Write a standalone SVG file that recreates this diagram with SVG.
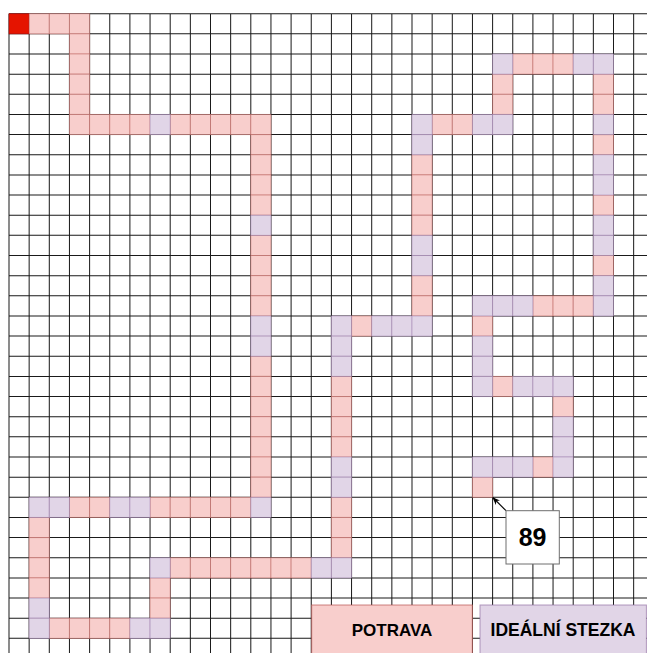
<svg xmlns="http://www.w3.org/2000/svg" width="647" height="653" viewBox="0 0 647 653">
<style>
.grid{fill:none;stroke:#1a1a1a;stroke-width:1}
.p{fill:#f8cecc;stroke:#b85450;stroke-opacity:0.45}
.l{fill:#e1d5e7;stroke:#9673a6;stroke-opacity:0.45}
.r{fill:#e51400;stroke:#b20000;stroke-opacity:0.5}
.lbl{font-family:"Liberation Sans",Arial,sans-serif;font-weight:bold;fill:#000;text-anchor:middle}
</style>
<defs>
<rect id="c" width="20" height="20"/>
<marker id="ah" viewBox="0 0 10 10" refX="9" refY="5" markerWidth="8" markerHeight="8" orient="auto" markerUnits="userSpaceOnUse">
<path d="M0,1 L10,5 L0,9 L3,5 Z" fill="#000"/>
</marker>
</defs>
<rect width="647" height="653" fill="#fff"/>
<g id="board" transform="translate(9 13.7) scale(1.0075)">
<path class="grid" d="M0 0V640M20 0V640M40 0V640M60 0V640M80 0V640M100 0V640M120 0V640M140 0V640M160 0V640M180 0V640M200 0V640M220 0V640M240 0V640M260 0V640M280 0V640M300 0V640M320 0V640M340 0V640M360 0V640M380 0V640M400 0V640M420 0V640M440 0V640M460 0V640M480 0V640M500 0V640M520 0V640M540 0V640M560 0V640M580 0V640M600 0V640M620 0V640M0 0H640M0 20H640M0 40H640M0 60H640M0 80H640M0 100H640M0 120H640M0 140H640M0 160H640M0 180H640M0 200H640M0 220H640M0 240H640M0 260H640M0 280H640M0 300H640M0 320H640M0 340H640M0 360H640M0 380H640M0 400H640M0 420H640M0 440H640M0 460H640M0 480H640M0 500H640M0 520H640M0 540H640M0 560H640M0 580H640M0 600H640M0 620H640"/>
<g id="start"><rect class="r" x="0" y="0" width="20" height="20"/></g>
<g id="cells-potrava">
<rect class="p" x="20" y="0" width="20" height="20"/><rect class="p" x="40" y="0" width="20" height="20"/><rect class="p" x="60" y="0" width="20" height="20"/>
<rect class="p" x="60" y="20" width="20" height="20"/><rect class="p" x="60" y="40" width="20" height="20"/><rect class="p" x="60" y="60" width="20" height="20"/><rect class="p" x="60" y="80" width="20" height="20"/>
<rect class="p" x="60" y="100" width="20" height="20"/><rect class="p" x="80" y="100" width="20" height="20"/><rect class="p" x="100" y="100" width="20" height="20"/><rect class="p" x="120" y="100" width="20" height="20"/>
<rect class="p" x="160" y="100" width="20" height="20"/><rect class="p" x="180" y="100" width="20" height="20"/><rect class="p" x="200" y="100" width="20" height="20"/><rect class="p" x="220" y="100" width="20" height="20"/><rect class="p" x="240" y="100" width="20" height="20"/>
<rect class="p" x="240" y="120" width="20" height="20"/><rect class="p" x="240" y="140" width="20" height="20"/><rect class="p" x="240" y="160" width="20" height="20"/><rect class="p" x="240" y="180" width="20" height="20"/>
<rect class="p" x="240" y="220" width="20" height="20"/><rect class="p" x="240" y="240" width="20" height="20"/><rect class="p" x="240" y="260" width="20" height="20"/><rect class="p" x="240" y="280" width="20" height="20"/>
<rect class="p" x="240" y="340" width="20" height="20"/><rect class="p" x="240" y="360" width="20" height="20"/><rect class="p" x="240" y="380" width="20" height="20"/><rect class="p" x="240" y="400" width="20" height="20"/><rect class="p" x="240" y="420" width="20" height="20"/><rect class="p" x="240" y="440" width="20" height="20"/><rect class="p" x="240" y="460" width="20" height="20"/>
<rect class="p" x="60" y="480" width="20" height="20"/><rect class="p" x="80" y="480" width="20" height="20"/>
<rect class="p" x="140" y="480" width="20" height="20"/><rect class="p" x="160" y="480" width="20" height="20"/><rect class="p" x="180" y="480" width="20" height="20"/><rect class="p" x="200" y="480" width="20" height="20"/><rect class="p" x="220" y="480" width="20" height="20"/>
<rect class="p" x="20" y="500" width="20" height="20"/><rect class="p" x="20" y="520" width="20" height="20"/><rect class="p" x="20" y="540" width="20" height="20"/><rect class="p" x="20" y="560" width="20" height="20"/>
<rect class="p" x="40" y="600" width="20" height="20"/><rect class="p" x="60" y="600" width="20" height="20"/><rect class="p" x="80" y="600" width="20" height="20"/><rect class="p" x="100" y="600" width="20" height="20"/>
<rect class="p" x="140" y="560" width="20" height="20"/><rect class="p" x="140" y="580" width="20" height="20"/>
<rect class="p" x="160" y="540" width="20" height="20"/><rect class="p" x="180" y="540" width="20" height="20"/><rect class="p" x="200" y="540" width="20" height="20"/><rect class="p" x="220" y="540" width="20" height="20"/><rect class="p" x="240" y="540" width="20" height="20"/><rect class="p" x="260" y="540" width="20" height="20"/><rect class="p" x="280" y="540" width="20" height="20"/>
<rect class="p" x="320" y="480" width="20" height="20"/><rect class="p" x="320" y="500" width="20" height="20"/><rect class="p" x="320" y="520" width="20" height="20"/>
<rect class="p" x="320" y="360" width="20" height="20"/><rect class="p" x="320" y="380" width="20" height="20"/><rect class="p" x="320" y="400" width="20" height="20"/><rect class="p" x="320" y="420" width="20" height="20"/>
<rect class="p" x="340" y="300" width="20" height="20"/>
<rect class="p" x="400" y="260" width="20" height="20"/><rect class="p" x="400" y="280" width="20" height="20"/>
<rect class="p" x="400" y="140" width="20" height="20"/><rect class="p" x="400" y="160" width="20" height="20"/><rect class="p" x="400" y="180" width="20" height="20"/><rect class="p" x="400" y="200" width="20" height="20"/>
<rect class="p" x="420" y="100" width="20" height="20"/><rect class="p" x="440" y="100" width="20" height="20"/>
<rect class="p" x="480" y="60" width="20" height="20"/><rect class="p" x="480" y="80" width="20" height="20"/>
<rect class="p" x="500" y="40" width="20" height="20"/><rect class="p" x="520" y="40" width="20" height="20"/><rect class="p" x="540" y="40" width="20" height="20"/>
<rect class="p" x="580" y="60" width="20" height="20"/><rect class="p" x="580" y="80" width="20" height="20"/><rect class="p" x="580" y="120" width="20" height="20"/><rect class="p" x="580" y="180" width="20" height="20"/><rect class="p" x="580" y="240" width="20" height="20"/>
<rect class="p" x="520" y="280" width="20" height="20"/><rect class="p" x="540" y="280" width="20" height="20"/><rect class="p" x="560" y="280" width="20" height="20"/>
<rect class="p" x="460" y="300" width="20" height="20"/>
<rect class="p" x="480" y="360" width="20" height="20"/>
<rect class="p" x="540" y="380" width="20" height="20"/>
<rect class="p" x="520" y="440" width="20" height="20"/>
<rect class="p" x="460" y="460" width="20" height="20"/>
</g>
<g id="cells-stezka">
<rect class="l" x="140" y="100" width="20" height="20"/>
<rect class="l" x="240" y="200" width="20" height="20"/>
<rect class="l" x="240" y="300" width="20" height="20"/><rect class="l" x="240" y="320" width="20" height="20"/>
<rect class="l" x="240" y="480" width="20" height="20"/>
<rect class="l" x="20" y="480" width="20" height="20"/><rect class="l" x="40" y="480" width="20" height="20"/>
<rect class="l" x="100" y="480" width="20" height="20"/><rect class="l" x="120" y="480" width="20" height="20"/>
<rect class="l" x="20" y="580" width="20" height="20"/><rect class="l" x="20" y="600" width="20" height="20"/>
<rect class="l" x="120" y="600" width="20" height="20"/><rect class="l" x="140" y="600" width="20" height="20"/>
<rect class="l" x="140" y="540" width="20" height="20"/>
<rect class="l" x="300" y="540" width="20" height="20"/><rect class="l" x="320" y="540" width="20" height="20"/>
<rect class="l" x="320" y="440" width="20" height="20"/><rect class="l" x="320" y="460" width="20" height="20"/>
<rect class="l" x="320" y="300" width="20" height="20"/><rect class="l" x="320" y="320" width="20" height="20"/><rect class="l" x="320" y="340" width="20" height="20"/>
<rect class="l" x="360" y="300" width="20" height="20"/><rect class="l" x="380" y="300" width="20" height="20"/><rect class="l" x="400" y="300" width="20" height="20"/>
<rect class="l" x="400" y="220" width="20" height="20"/><rect class="l" x="400" y="240" width="20" height="20"/>
<rect class="l" x="400" y="100" width="20" height="20"/><rect class="l" x="400" y="120" width="20" height="20"/>
<rect class="l" x="460" y="100" width="20" height="20"/><rect class="l" x="480" y="100" width="20" height="20"/>
<rect class="l" x="480" y="40" width="20" height="20"/>
<rect class="l" x="560" y="40" width="20" height="20"/><rect class="l" x="580" y="40" width="20" height="20"/>
<rect class="l" x="580" y="100" width="20" height="20"/><rect class="l" x="580" y="140" width="20" height="20"/><rect class="l" x="580" y="160" width="20" height="20"/><rect class="l" x="580" y="200" width="20" height="20"/><rect class="l" x="580" y="220" width="20" height="20"/><rect class="l" x="580" y="260" width="20" height="20"/><rect class="l" x="580" y="280" width="20" height="20"/>
<rect class="l" x="460" y="280" width="20" height="20"/><rect class="l" x="480" y="280" width="20" height="20"/><rect class="l" x="500" y="280" width="20" height="20"/>
<rect class="l" x="460" y="320" width="20" height="20"/><rect class="l" x="460" y="340" width="20" height="20"/><rect class="l" x="460" y="360" width="20" height="20"/>
<rect class="l" x="500" y="360" width="20" height="20"/><rect class="l" x="520" y="360" width="20" height="20"/><rect class="l" x="540" y="360" width="20" height="20"/>
<rect class="l" x="540" y="400" width="20" height="20"/><rect class="l" x="540" y="420" width="20" height="20"/><rect class="l" x="540" y="440" width="20" height="20"/>
<rect class="l" x="460" y="440" width="20" height="20"/><rect class="l" x="480" y="440" width="20" height="20"/><rect class="l" x="500" y="440" width="20" height="20"/>
</g>
</g>
<g id="connectors">
<line x1="506" y1="510.7" x2="493" y2="497.7" stroke="#000" stroke-width="1.2" marker-end="url(#ah)"/>
</g>
<g id="label-89">
<rect x="506" y="510.7" width="53.3" height="53.3" fill="#fff" stroke="#6e6e6e" stroke-width="1"/>
<text class="lbl" x="532.6" y="546" font-size="25">89</text>
</g>
<g id="legend-potrava">
<rect x="311.7" y="605" width="160.6" height="60" fill="#f8cecc" stroke="#b85450" stroke-opacity="0.7"/>
<text class="lbl" x="392" y="635.5" font-size="17">POTRAVA</text>
</g>
<g id="legend-stezka">
<rect x="480" y="605" width="166.4" height="60" fill="#e1d5e7" stroke="#9673a6" stroke-opacity="0.7"/>
<text class="lbl" x="563" y="635.5" font-size="17.5">IDEÁLNÍ STEZKA</text>
</g>
</svg>
